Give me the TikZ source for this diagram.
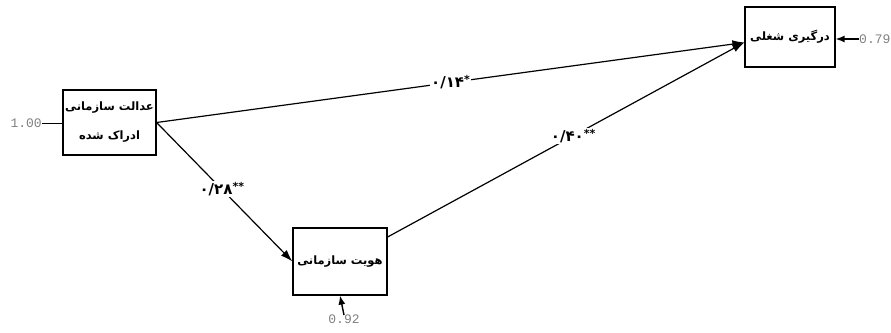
\documentclass[tikz,border=0pt]{standalone}
\usepackage{fontspec}
\usetikzlibrary{arrows.meta}
\TeXXeTstate=1
\newfontfamily\arabicfont[Script=Arabic]{DejaVu Sans}
\newfontfamily\numfont{Liberation Mono}
\newcommand{\sig}[1]{\raisebox{4pt}{\fontsize{11}{11}\selectfont #1}}
\begin{document}
\begin{tikzpicture}[x=1pt,y=-1pt,
  box/.style={draw, line width=1.2pt, inner sep=0pt, align=center,
    font=\arabicfont\bfseries\fontsize{11.5}{29}\selectfont},
  pathline/.style={line width=1.2pt, -{Latex[length=12pt,width=8pt]}},
  errline/.style={line width=1.4pt, -{Latex[length=9pt,width=7pt]}},
  coef/.style={fill=white, inner sep=1pt,
    font=\arabicfont\bfseries\fontsize{15}{17}\selectfont},
  err/.style={inner sep=0pt, text=gray, font=\numfont\fontsize{13}{15}\selectfont}]
\useasboundingbox (0,0) rectangle (891,332);

\node[box, minimum width=93pt, minimum height=65pt] (A) at (109.5,122.5)
  {\beginR عدالت سازمانی\endR\\\beginR ادراک شده\endR};
\node[box, minimum width=90pt, minimum height=60pt] (B) at (790,37)
  {\beginR درگیری شغلی\endR};
\node[box, minimum width=94pt, minimum height=67pt] (C) at (340,261.5)
  {\beginR هویت سازمانی\endR};

\node[err, anchor=east] (n1) at (42,123) {1.00};
\node[err, anchor=west] (n2) at (859,39) {0.79};
\node[err, anchor=north] (n3) at (344,315) {0.92};

\draw[line width=1pt] (n1.east) -- (A.west |- n1.east);
\draw[errline] (n2.west) -- (B.east |- n2.west);
\draw[errline] (n3.north) -- (C.south);

\draw[pathline] (A.east) -- node[coef, pos=0.5] {۰/۱۴\sig{*}} ([yshift=-5.5pt]B.west);
\draw[pathline] (A.east) -- node[coef, pos=0.48] {۰/۲۸\sig{**}} (C.west);
\draw[pathline] ([yshift=24.5pt]C.east) -- node[coef, pos=0.52] {۰/۴۰\sig{**}} ([yshift=-5.5pt]B.west);
\end{tikzpicture}
\end{document}
